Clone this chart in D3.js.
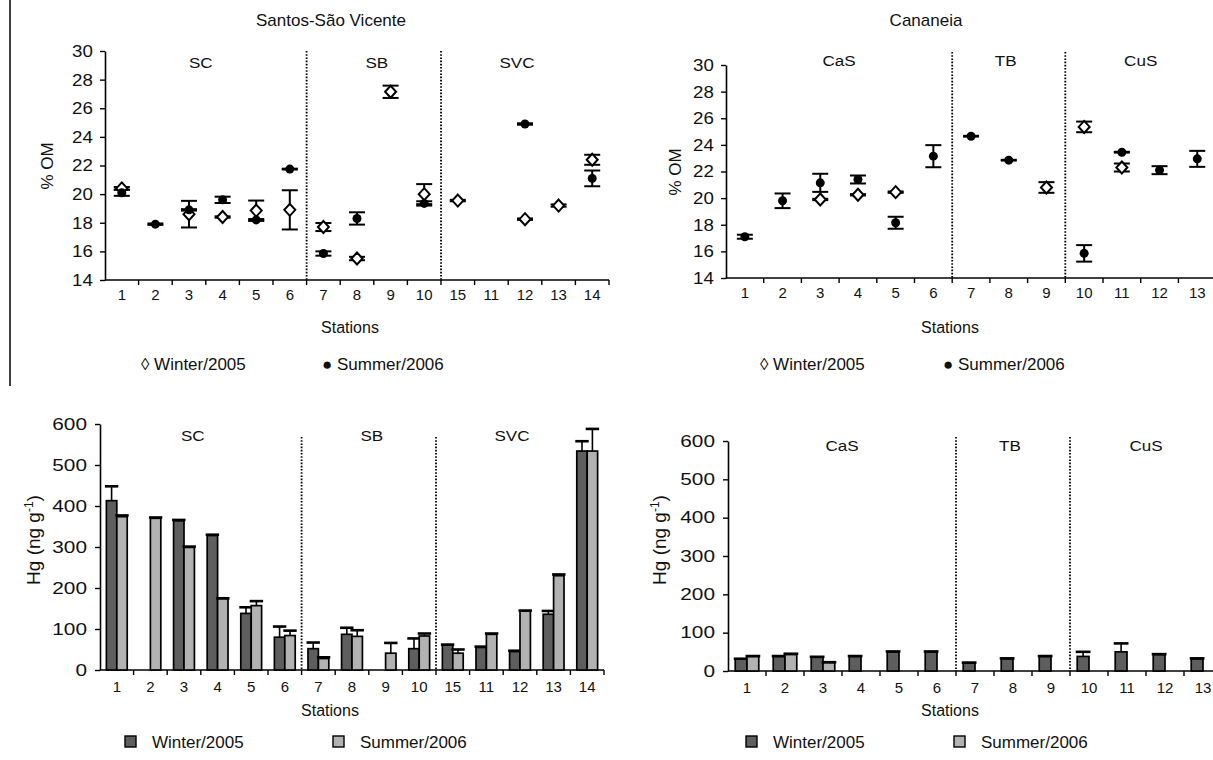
<!DOCTYPE html>
<html>
<head>
<meta charset="utf-8">
<script src="https://cdn.jsdelivr.net/npm/d3@7"></script>
<style>
  body { margin: 0; background: #fff; }
  svg  { display: block; font-family: "Liberation Sans", Arial, sans-serif; }
</style>
</head>
<body>
<svg id="fig" width="1213" height="760"></svg>
<script>
// ─── Data ─────────────────────────────────────────────────────────────────────
// Santos-São Vicente stations (plot order as in the figure)
const santosStations = ['1','2','3','4','5','6','7','8','9','10','15','11','12','13','14'];
const santosSections = [
  { name: 'SC',  from: '1',  to: '6'  },
  { name: 'SB',  from: '7',  to: '10' },
  { name: 'SVC', from: '15', to: '14' },
];
// % organic matter
const omWinterSantos    = [20.4, null, 18.6, 18.4, 18.85, 18.9, 17.7, 15.5, 27.15, 20.0, 19.55, null, 18.25, 19.2, 22.4];
const omWinterSantosErr = [0.1, 0, 0.93, 0.05, 0.7, 1.37, 0.28, 0.12, 0.43, 0.7, 0.05, 0, 0.05, 0.08, 0.35];
const omSummerSantos    = [20.1, 17.9, 18.9, 19.6, 18.2, 21.75, 15.85, 18.3, null, 19.35, null, null, 24.9, null, 21.1];
const omSummerSantosErr = [0.22, 0.05, 0.05, 0.22, 0.06, 0.03, 0.15, 0.43, 0, 0.15, 0, 0, 0.05, 0, 0.55];
// Hg (ng g-1)
const hgWinterSantos    = [413, null, 364, 328, 138, 80, 52, 87, null, 52, 61, 55, 45, 136, 534];
const hgWinterSantosErr = [35, 0, 2, 2, 15, 26, 15, 16, 0, 25, 1, 2, 2, 8, 24];
const hgSummerSantos    = [374, 370, 299, 174, 157, 84, 28, 82, 41, 83, 41, 87, 144, 230, 534];
const hgSummerSantosErr = [3, 2, 2, 1, 11, 12, 3, 15, 25, 6, 9, 2, 1, 3, 54];

// Cananeia stations
const canStations = ['1','2','3','4','5','6','7','8','9','10','11','12','13'];
const canSections = [
  { name: 'CaS', from: '1',  to: '6'  },
  { name: 'TB',  from: '7',  to: '9'  },
  { name: 'CuS', from: '10', to: '13' },
];
const omWinterCan    = [null, null, 19.9, 20.25, 20.45, null, null, null, 20.8, 25.35, 22.3, null, null];
const omWinterCanErr = [0, 0, 0.05, 0.05, 0.05, 0, 0, 0, 0.4, 0.4, 0.3, 0, 0];
const omSummerCan    = [17.1, 19.8, 21.15, 21.4, 18.15, 23.15, 24.65, 22.85, null, 15.85, 23.45, 22.1, 22.95];
const omSummerCanErr = [0.15, 0.55, 0.68, 0.3, 0.45, 0.83, 0.03, 0.03, 0, 0.62, 0.03, 0.3, 0.6];
const hgWinterCan    = [31, 38, 36, 38, 50, 50, 21, 32, 38, 38, 50, 43, 32];
const hgWinterCanErr = [1, 1, 1, 1, 1, 1, 1, 1, 1, 12, 22, 1, 1];
const hgSummerCan    = [38, 43, 22, null, null, null, null, null, null, null, null, null, null];
const hgSummerCanErr = [1, 2, 1, 0, 0, 0, 0, 0, 0, 0, 0, 0, 0];

const omTicks = [14, 16, 18, 20, 22, 24, 26, 28, 30];
const hgTicks = [0, 100, 200, 300, 400, 500, 600];

const WINTER_FILL = '#5e5e5e';
const SUMMER_FILL = '#b2b2b2';

const svg = d3.select('#fig');

// ─── Helpers ──────────────────────────────────────────────────────────────────

function makeScales(p) {
  const x = d3.scaleBand().domain(p.stations).range([p.x0, p.x0 + p.bw * p.stations.length]).padding(0);
  const y = d3.scaleLinear().domain(p.yDomain).range([p.yBottom, p.yTop]);
  return { x, y };
}

function drawFrame(p, x, y) {
  const g = svg.append('g');
  const bw = x.bandwidth();

  // y axis
  const ya = g.append('g')
    .attr('transform', `translate(${p.x0},0)`)
    .call(d3.axisLeft(y).tickValues(p.yTicks).tickSize(5).tickSizeOuter(0).tickPadding(p.yPad));
  ya.attr('font-family', null).attr('font-size', null);
  ya.select('.domain').attr('stroke', '#000').attr('stroke-width', 1.6);
  ya.selectAll('.tick line').attr('stroke', '#000').attr('stroke-width', 1.4);
  ya.selectAll('.tick text')
    .attr('fill', '#111')
    .attr('font-size', p.yFont)
    .attr('transform', `scale(${p.ySx},1)`);

  // x axis: ticks on station boundaries, labels at band centres
  const xa = g.append('g')
    .attr('transform', `translate(0,${p.yBottom})`)
    .call(d3.axisBottom(x).tickSize(0).tickPadding(p.xPad));
  xa.attr('font-family', null).attr('font-size', null);
  xa.select('.domain').remove();
  xa.selectAll('.tick text').attr('fill', '#111').attr('font-size', p.xFont);
  g.append('line')
    .attr('x1', p.x0).attr('x2', x.range()[1])
    .attr('y1', p.yBottom).attr('y2', p.yBottom)
    .attr('stroke', '#000').attr('stroke-width', 1.6);
  g.selectAll('line.bound')
    .data(p.stations)
    .join('line')
    .attr('class', 'bound')
    .attr('x1', d => x(d) + bw).attr('x2', d => x(d) + bw)
    .attr('y1', p.yBottom).attr('y2', p.yBottom + 5)
    .attr('stroke', '#000').attr('stroke-width', 1.4);

  // dotted section separators + section names
  p.sections.forEach((s, i) => {
    const xs = x(s.from), xe = x(s.to) + bw;
    if (i > 0) {
      g.append('line')
        .attr('x1', xs).attr('x2', xs)
        .attr('y1', p.sepTop).attr('y2', p.yBottom)
        .attr('stroke', '#000').attr('stroke-width', 1.8)
        .attr('stroke-dasharray', '1.6,1.6');
    }
    g.append('text')
      .attr('transform', `translate(${(xs + xe) / 2 + (p.secDx[i] || 0)},${p.secY}) scale(1.1,1)`)
      .attr('text-anchor', 'middle')
      .attr('font-size', 15.5)
      .attr('fill', '#111')
      .text(s.name);
  });

  // "Stations"
  g.append('text')
    .attr('x', p.stationsX).attr('y', p.stationsY)
    .attr('text-anchor', 'middle').attr('font-size', 16).attr('fill', '#111')
    .text('Stations');
  return g;
}

function drawOM(p, winter, winterErr, summer, summerErr) {
  const { x, y } = makeScales(p);
  const g = drawFrame(p, x, y);
  const bw = x.bandwidth();
  const cx = i => x(p.stations[i]) + bw / 2;
  const cap = 8;

  const errRows = [];
  p.stations.forEach((s, i) => {
    if (winter[i] != null) errRows.push({ i, v: winter[i], e: winterErr[i] });
    if (summer[i] != null) errRows.push({ i, v: summer[i], e: summerErr[i] });
  });
  const eg = g.append('g').attr('stroke', '#000').attr('stroke-width', 2);
  errRows.forEach(r => {
    const X = cx(r.i);
    eg.append('line').attr('x1', X).attr('x2', X).attr('y1', y(r.v - r.e)).attr('y2', y(r.v + r.e));
    eg.append('line').attr('x1', X - cap).attr('x2', X + cap).attr('y1', y(r.v + r.e)).attr('y2', y(r.v + r.e));
    eg.append('line').attr('x1', X - cap).attr('x2', X + cap).attr('y1', y(r.v - r.e)).attr('y2', y(r.v - r.e));
  });

  // winter: open diamonds
  g.selectAll('path.win')
    .data(winter.map((v, i) => ({ v, i })).filter(d => d.v != null))
    .join('path')
    .attr('class', 'win')
    .attr('d', d => {
      const X = cx(d.i), Y = y(d.v);
      return `M${X},${Y - 6}L${X + 5.5},${Y}L${X},${Y + 6}L${X - 5.5},${Y}Z`;
    })
    .attr('fill', '#fff').attr('stroke', '#000').attr('stroke-width', 2);

  // summer: filled dots
  g.selectAll('circle.sum')
    .data(summer.map((v, i) => ({ v, i })).filter(d => d.v != null))
    .join('circle')
    .attr('class', 'sum')
    .attr('cx', d => cx(d.i)).attr('cy', d => y(d.v))
    .attr('r', 4.5).attr('fill', '#000');

  // y title
  g.append('text')
    .attr('transform', `translate(${p.yTitleX},${p.yTitleY}) rotate(-90)`)
    .attr('text-anchor', 'middle').attr('font-size', 17).attr('fill', '#111')
    .text('% OM');

  // legend
  g.append('text').attr('x', p.legX[0]).attr('y', p.legY).attr('font-size', 17).attr('fill', '#111')
    .text('\u25CA Winter/2005');
  g.append('text').attr('x', p.legX[1]).attr('y', p.legY).attr('font-size', 17).attr('fill', '#111')
    .text('\u25CF Summer/2006');
}

function drawHg(p, winter, winterErr, summer, summerErr) {
  const { x, y } = makeScales(p);
  const g = drawFrame(p, x, y);
  const bw = x.bandwidth();
  const w = bw * 0.31;
  const cx = i => x(p.stations[i]) + bw / 2;

  const series = [
    { vals: winter, errs: winterErr, fill: WINTER_FILL, off: -w },
    { vals: summer, errs: summerErr, fill: SUMMER_FILL, off: 0 },
  ];
  series.forEach(s => {
    const rows = s.vals.map((v, i) => ({ v, e: s.errs[i], i })).filter(d => d.v != null);
    g.append('g').selectAll('rect')
      .data(rows)
      .join('rect')
      .attr('x', d => cx(d.i) + s.off)
      .attr('y', d => y(d.v))
      .attr('width', w)
      .attr('height', d => y(0) - y(d.v))
      .attr('fill', s.fill)
      .attr('stroke', '#000').attr('stroke-width', 1.7);
    const eg = g.append('g').attr('stroke', '#000');
    rows.forEach(d => {
      const X = cx(d.i) + s.off + w / 2;
      eg.append('line').attr('x1', X).attr('x2', X).attr('y1', y(d.v)).attr('y2', y(d.v + d.e)).attr('stroke-width', 1.6);
      eg.append('line').attr('x1', X - w / 2 - 1.5).attr('x2', X + w / 2 + 1.5)
        .attr('y1', y(d.v + d.e)).attr('y2', y(d.v + d.e)).attr('stroke-width', 2.6);
    });
  });

  // y title with superscript
  const t = g.append('text')
    .attr('transform', `translate(${p.yTitleX},${p.yTitleY}) rotate(-90)`)
    .attr('text-anchor', 'middle').attr('font-size', 19).attr('fill', '#111');
  t.append('tspan').text('Hg (ng g');
  t.append('tspan').attr('dy', -7).attr('font-size', 12).text('-1');
  t.append('tspan').attr('dy', 7).text(')');

  // legend
  p.legX.forEach((lx, k) => {
    g.append('rect')
      .attr('x', lx).attr('y', p.legY - 12).attr('width', 11).attr('height', 11)
      .attr('fill', k === 0 ? WINTER_FILL : SUMMER_FILL)
      .attr('stroke', '#000').attr('stroke-width', 1.4);
    g.append('text')
      .attr('x', lx + 27).attr('y', p.legY).attr('font-size', 17).attr('fill', '#111')
      .text(k === 0 ? 'Winter/2005' : 'Summer/2006');
  });
}

// ─── Titles & frame line ─────────────────────────────────────────────────────
svg.append('line').attr('x1', 10).attr('x2', 10).attr('y1', 0).attr('y2', 386)
  .attr('stroke', '#000').attr('stroke-width', 1.5);
svg.append('text').attr('x', 331).attr('y', 26).attr('text-anchor', 'middle')
  .attr('font-size', 17).attr('fill', '#111').text('Santos-São Vicente');
svg.append('text').attr('x', 926).attr('y', 26).attr('text-anchor', 'middle')
  .attr('font-size', 17).attr('fill', '#111').text('Cananeia');

// ─── Panels ───────────────────────────────────────────────────────────────────
drawOM({
  stations: santosStations, sections: santosSections,
  x0: 105, bw: 33.6, yDomain: [14, 30], yBottom: 280, yTop: 51, yTicks: omTicks,
  yPad: 6, yFont: 17, ySx: 1.1, xPad: 9, xFont: 15, sepTop: 51, secY: 68, secDx: [-5, 3, -8],
  stationsX: 350, stationsY: 333, yTitleX: 53, yTitleY: 166, legX: [141, 322], legY: 370,
}, omWinterSantos, omWinterSantosErr, omSummerSantos, omSummerSantosErr);

drawOM({
  stations: canStations, sections: canSections,
  x0: 726, bw: 37.7, yDomain: [14, 30], yBottom: 278, yTop: 65, yTicks: omTicks,
  yPad: 6, yFont: 17, ySx: 1.1, xPad: 9, xFont: 15, sepTop: 52, secY: 66, secDx: [0, -3, 0],
  stationsX: 950, stationsY: 333, yTitleX: 681, yTitleY: 172, legX: [760, 943], legY: 370,
}, omWinterCan, omWinterCanErr, omSummerCan, omSummerCanErr);

drawHg({
  stations: santosStations, sections: santosSections,
  x0: 100, bw: 33.6, yDomain: [0, 600], yBottom: 670, yTop: 424, yTicks: hgTicks,
  yPad: 5, yFont: 16, ySx: 1.3, xPad: 11, xFont: 15, sepTop: 437, secY: 441, secDx: [-8, 3, -8],
  stationsX: 330, stationsY: 716, yTitleX: 40, yTitleY: 540, legX: [125, 333], legY: 748,
}, hgWinterSantos, hgWinterSantosErr, hgSummerSantos, hgSummerSantosErr);

drawHg({
  stations: canStations, sections: canSections,
  x0: 728, bw: 38, yDomain: [0, 600], yBottom: 671, yTop: 441, yTicks: hgTicks,
  yPad: 5, yFont: 16, ySx: 1.3, xPad: 11, xFont: 15, sepTop: 437, secY: 451, secDx: [0, -3, 0],
  stationsX: 950, stationsY: 716, yTitleX: 666, yTitleY: 540, legX: [746, 954], legY: 748,
}, hgWinterCan, hgWinterCanErr, hgSummerCan, hgSummerCanErr);
</script>
</body>
</html>
